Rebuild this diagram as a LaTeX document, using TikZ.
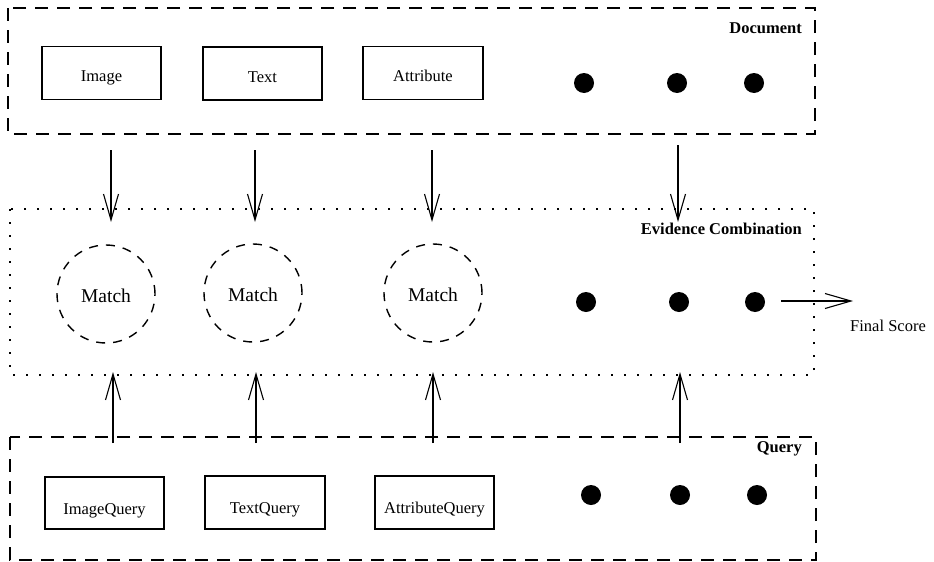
\documentclass[tikz,border=0pt]{standalone}
\usepackage{fontspec}
\setmainfont{Liberation Serif}
\usetikzlibrary{arrows.meta}
\tikzset{
  grp/.style={line width=1.5pt, dash pattern=on 13pt off 9pt},
  evid/.style={line width=2pt, dash pattern=on 2pt off 11pt},
  srcbox/.style={draw, line width=1.1pt, minimum width=119pt, minimum height=53pt, inner sep=0pt, text height=17pt, text depth=0pt, font=\fontsize{16.5}{18}\selectfont},
  qbox/.style={srcbox, text height=22pt},
  matchc/.style={draw, circle, line width=1.4pt, dash pattern=on 9pt off 8pt, minimum size=98pt, inner sep=0pt, text height=17pt, text depth=0pt, font=\fontsize{19.5}{22}\selectfont},
  blob/.style={circle, fill=black, minimum size=20pt, inner sep=0pt},
  lbl/.style={font=\fontsize{16.5}{18}\selectfont\bfseries, anchor=east, inner sep=0pt},
  arr/.style={-{Straight Barb[length=26pt,width=15pt,line width=1.1pt]}, line width=1.3pt},
}
\begin{document}
\begin{tikzpicture}[x=1pt,y=-1pt]
\useasboundingbox (0,0) rectangle (934,562);
% group frames
\draw[grp] (8,8) rectangle (815,134);
\draw[evid] (10,209) rectangle (814,375);
\draw[grp] (10,437) rectangle (816,560);
\node[lbl] (ldoc) at (802,28) {Document};
\node[lbl] (lev) at (802,229) {Evidence Combination};
\node[lbl] (lq) at (802,449) {Query};
% document items
\node[srcbox] (img) at (101.5,73) {Image};
\node[srcbox] (txt) at (262.5,73.5) {Text};
\node[srcbox, minimum width=120pt] (att) at (423,73) {Attribute};
\node[blob] (d1) at (584,83) {};
\node[blob] (d2) at (677,83) {};
\node[blob] (d3) at (754,83) {};
% evidence items
\node[matchc] (m1) at (106,294) {Match};
\node[matchc] (m2) at (253,293) {Match};
\node[matchc] (m3) at (433,293) {Match};
\node[blob] (e1) at (586,302) {};
\node[blob] (e2) at (679,302) {};
\node[blob] (e3) at (755,302) {};
% query items
\node[qbox, minimum height=52pt] (iq) at (104.5,503) {ImageQuery};
\node[qbox, minimum width=120pt] (tq) at (265,502.5) {TextQuery};
\node[qbox] (aq) at (434.5,502.5) {AttributeQuery};
\node[blob] (q1) at (591,495) {};
\node[blob] (q2) at (680,495) {};
\node[blob] (q3) at (757,495) {};
% connector ends
\coordinate (a1s) at (111,150); \coordinate (a1e) at (111,222);
\coordinate (a2s) at (255,150); \coordinate (a2e) at (255,222);
\coordinate (a3s) at (432,150); \coordinate (a3e) at (432,222);
\coordinate (a4s) at (678,145); \coordinate (a4e) at (678,222);
\coordinate (b1s) at (113,443); \coordinate (b1e) at (113,372);
\coordinate (b2s) at (256,443); \coordinate (b2e) at (256,372);
\coordinate (b3s) at (433,443); \coordinate (b3e) at (433,372);
\coordinate (b4s) at (680,443); \coordinate (b4e) at (680,372);
\coordinate (fs) at (781,301); \coordinate (fe) at (853,301);
\draw[arr] (a1s) -- (a1e);
\draw[arr] (a2s) -- (a2e);
\draw[arr] (a3s) -- (a3e);
\draw[arr] (a4s) -- (a4e);
\draw[arr] (b1s) -- (b1e);
\draw[arr] (b2s) -- (b2e);
\draw[arr] (b3s) -- (b3e);
\draw[arr] (b4s) -- (b4e);
\draw[arr] (fs) -- (fe);
\node[font=\fontsize{16.5}{18}\selectfont, anchor=west, inner sep=0pt] (fin) at (850,326) {Final Score};
\end{tikzpicture}
\end{document}
